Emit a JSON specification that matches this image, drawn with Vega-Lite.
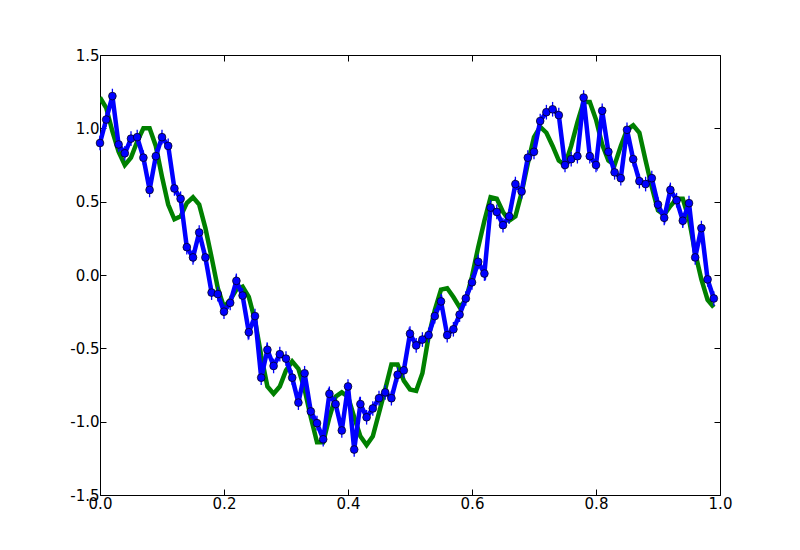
{
  "$schema": "https://vega.github.io/schema/vega-lite/v6.json",
  "width": 620,
  "height": 440,
  "autosize": {"type": "none"},
  "padding": {"left": 100, "top": 55, "right": 80, "bottom": 55},
  "background": "white",
  "config": {
    "view": {"stroke": "black", "strokeWidth": 1},
    "axis": {
      "domain": false,
      "grid": false,
      "title": null,
      "labelFont": "DejaVu Sans",
      "labelFontSize": 15,
      "labelColor": "black",
      "tickColor": "black",
      "tickSize": -6,
      "tickWidth": 1,
      "labelPadding": 7,
      "labelFlush": false,
      "labelOverlap": false,
      "labelBound": false
    }
  },
  "data": {
    "values": [
      {"x": 0.00, "g": 1.21, "b": 0.90, "e": 0.05},
      {"x": 0.01, "g": 1.14, "b": 1.06, "e": 0.05},
      {"x": 0.02, "g": 0.98, "b": 1.22, "e": 0.05},
      {"x": 0.03, "g": 0.84, "b": 0.89, "e": 0.05},
      {"x": 0.04, "g": 0.75, "b": 0.83, "e": 0.05},
      {"x": 0.05, "g": 0.80, "b": 0.93, "e": 0.05},
      {"x": 0.06, "g": 0.91, "b": 0.94, "e": 0.05},
      {"x": 0.07, "g": 1.00, "b": 0.80, "e": 0.05},
      {"x": 0.08, "g": 1.00, "b": 0.58, "e": 0.05},
      {"x": 0.09, "g": 0.88, "b": 0.81, "e": 0.05},
      {"x": 0.10, "g": 0.67, "b": 0.94, "e": 0.05},
      {"x": 0.11, "g": 0.48, "b": 0.88, "e": 0.05},
      {"x": 0.12, "g": 0.38, "b": 0.59, "e": 0.05},
      {"x": 0.13, "g": 0.40, "b": 0.52, "e": 0.05},
      {"x": 0.14, "g": 0.49, "b": 0.19, "e": 0.05},
      {"x": 0.15, "g": 0.53, "b": 0.12, "e": 0.05},
      {"x": 0.16, "g": 0.48, "b": 0.29, "e": 0.05},
      {"x": 0.17, "g": 0.32, "b": 0.12, "e": 0.05},
      {"x": 0.18, "g": 0.12, "b": -0.12, "e": 0.05},
      {"x": 0.19, "g": -0.09, "b": -0.13, "e": 0.05},
      {"x": 0.20, "g": -0.22, "b": -0.25, "e": 0.05},
      {"x": 0.21, "g": -0.17, "b": -0.19, "e": 0.05},
      {"x": 0.22, "g": -0.10, "b": -0.04, "e": 0.05},
      {"x": 0.23, "g": -0.08, "b": -0.14, "e": 0.05},
      {"x": 0.24, "g": -0.15, "b": -0.39, "e": 0.05},
      {"x": 0.25, "g": -0.31, "b": -0.28, "e": 0.05},
      {"x": 0.26, "g": -0.55, "b": -0.70, "e": 0.05},
      {"x": 0.27, "g": -0.76, "b": -0.51, "e": 0.05},
      {"x": 0.28, "g": -0.81, "b": -0.62, "e": 0.05},
      {"x": 0.29, "g": -0.76, "b": -0.54, "e": 0.05},
      {"x": 0.30, "g": -0.65, "b": -0.57, "e": 0.05},
      {"x": 0.31, "g": -0.59, "b": -0.70, "e": 0.05},
      {"x": 0.32, "g": -0.64, "b": -0.87, "e": 0.05},
      {"x": 0.33, "g": -0.78, "b": -0.67, "e": 0.05},
      {"x": 0.34, "g": -0.97, "b": -0.93, "e": 0.05},
      {"x": 0.35, "g": -1.14, "b": -1.01, "e": 0.05},
      {"x": 0.36, "g": -1.14, "b": -1.12, "e": 0.05},
      {"x": 0.37, "g": -0.97, "b": -0.81, "e": 0.05},
      {"x": 0.38, "g": -0.83, "b": -0.88, "e": 0.05},
      {"x": 0.39, "g": -0.80, "b": -1.06, "e": 0.05},
      {"x": 0.40, "g": -0.83, "b": -0.76, "e": 0.05},
      {"x": 0.41, "g": -0.97, "b": -1.19, "e": 0.05},
      {"x": 0.42, "g": -1.10, "b": -0.88, "e": 0.05},
      {"x": 0.43, "g": -1.16, "b": -0.97, "e": 0.05},
      {"x": 0.44, "g": -1.10, "b": -0.91, "e": 0.05},
      {"x": 0.45, "g": -0.94, "b": -0.84, "e": 0.05},
      {"x": 0.46, "g": -0.78, "b": -0.80, "e": 0.05},
      {"x": 0.47, "g": -0.61, "b": -0.84, "e": 0.05},
      {"x": 0.48, "g": -0.61, "b": -0.68, "e": 0.05},
      {"x": 0.49, "g": -0.72, "b": -0.65, "e": 0.05},
      {"x": 0.50, "g": -0.78, "b": -0.40, "e": 0.05},
      {"x": 0.51, "g": -0.79, "b": -0.48, "e": 0.05},
      {"x": 0.52, "g": -0.67, "b": -0.44, "e": 0.05},
      {"x": 0.53, "g": -0.42, "b": -0.41, "e": 0.05},
      {"x": 0.54, "g": -0.24, "b": -0.28, "e": 0.05},
      {"x": 0.55, "g": -0.10, "b": -0.18, "e": 0.05},
      {"x": 0.56, "g": -0.09, "b": -0.41, "e": 0.05},
      {"x": 0.57, "g": -0.15, "b": -0.37, "e": 0.05},
      {"x": 0.58, "g": -0.22, "b": -0.27, "e": 0.05},
      {"x": 0.59, "g": -0.17, "b": -0.16, "e": 0.05},
      {"x": 0.60, "g": -0.01, "b": -0.05, "e": 0.05},
      {"x": 0.61, "g": 0.19, "b": 0.09, "e": 0.05},
      {"x": 0.62, "g": 0.37, "b": 0.01, "e": 0.05},
      {"x": 0.63, "g": 0.53, "b": 0.46, "e": 0.05},
      {"x": 0.64, "g": 0.52, "b": 0.43, "e": 0.05},
      {"x": 0.65, "g": 0.43, "b": 0.34, "e": 0.05},
      {"x": 0.66, "g": 0.37, "b": 0.40, "e": 0.05},
      {"x": 0.67, "g": 0.40, "b": 0.62, "e": 0.05},
      {"x": 0.68, "g": 0.56, "b": 0.57, "e": 0.05},
      {"x": 0.69, "g": 0.76, "b": 0.80, "e": 0.05},
      {"x": 0.70, "g": 0.94, "b": 0.84, "e": 0.05},
      {"x": 0.71, "g": 1.01, "b": 1.05, "e": 0.05},
      {"x": 0.72, "g": 0.97, "b": 1.11, "e": 0.05},
      {"x": 0.73, "g": 0.88, "b": 1.13, "e": 0.05},
      {"x": 0.74, "g": 0.78, "b": 1.09, "e": 0.05},
      {"x": 0.75, "g": 0.75, "b": 0.75, "e": 0.05},
      {"x": 0.76, "g": 0.88, "b": 0.79, "e": 0.05},
      {"x": 0.77, "g": 1.04, "b": 0.81, "e": 0.05},
      {"x": 0.78, "g": 1.18, "b": 1.21, "e": 0.05},
      {"x": 0.79, "g": 1.18, "b": 0.81, "e": 0.05},
      {"x": 0.80, "g": 1.06, "b": 0.75, "e": 0.05},
      {"x": 0.81, "g": 0.89, "b": 1.12, "e": 0.05},
      {"x": 0.82, "g": 0.78, "b": 0.84, "e": 0.05},
      {"x": 0.83, "g": 0.75, "b": 0.70, "e": 0.05},
      {"x": 0.84, "g": 0.88, "b": 0.66, "e": 0.05},
      {"x": 0.85, "g": 0.99, "b": 0.99, "e": 0.05},
      {"x": 0.86, "g": 1.02, "b": 0.79, "e": 0.05},
      {"x": 0.87, "g": 0.97, "b": 0.64, "e": 0.05},
      {"x": 0.88, "g": 0.78, "b": 0.62, "e": 0.05},
      {"x": 0.89, "g": 0.60, "b": 0.66, "e": 0.05},
      {"x": 0.90, "g": 0.44, "b": 0.48, "e": 0.05},
      {"x": 0.91, "g": 0.41, "b": 0.39, "e": 0.05},
      {"x": 0.92, "g": 0.47, "b": 0.58, "e": 0.05},
      {"x": 0.93, "g": 0.52, "b": 0.51, "e": 0.05},
      {"x": 0.94, "g": 0.52, "b": 0.37, "e": 0.05},
      {"x": 0.95, "g": 0.38, "b": 0.49, "e": 0.05},
      {"x": 0.96, "g": 0.15, "b": 0.12, "e": 0.05},
      {"x": 0.97, "g": -0.03, "b": 0.32, "e": 0.05},
      {"x": 0.98, "g": -0.17, "b": -0.03, "e": 0.05},
      {"x": 0.99, "g": -0.22, "b": -0.16, "e": 0.05}
    ]
  },
  "layer": [
    {
      "mark": {"type": "line", "color": "#008000", "strokeWidth": 4.5, "strokeJoin": "miter", "clip": true},
      "encoding": {
        "x": {"field": "x", "type": "quantitative", "scale": {"domain": [0, 1], "nice": false, "zero": false},
              "axis": {"orient": "bottom", "values": [0, 0.2, 0.4, 0.6, 0.8, 1.0], "format": ".1f", "labelExpr": "replace(datum.label, '\u2212', '-')"}},
        "y": {"field": "g", "type": "quantitative", "scale": {"domain": [-1.5, 1.5], "nice": false, "zero": false},
              "axis": {"orient": "left", "values": [-1.5, -1, -0.5, 0, 0.5, 1, 1.5], "format": ".1f", "labelExpr": "replace(datum.label, '\u2212', '-')"}}
      }
    },
    {
      "mark": {"type": "errorbar", "color": "#0000ff", "thickness": 1.3},
      "encoding": {
        "x": {"field": "x", "type": "quantitative", "axis": null},
        "y": {"field": "b", "type": "quantitative", "axis": null},
        "yError": {"field": "e"}
      }
    },
    {
      "mark": {"type": "line", "color": "#0000ff", "strokeWidth": 4.5, "strokeJoin": "miter"},
      "encoding": {
        "x": {"field": "x", "type": "quantitative", "axis": null},
        "y": {"field": "b", "type": "quantitative", "axis": null}
      }
    },
    {
      "mark": {"type": "point", "shape": "circle", "filled": true, "fill": "#0000ff", "fillOpacity": 1, "stroke": "black", "strokeWidth": 0.7, "opacity": 1, "size": 60},
      "encoding": {
        "x": {"field": "x", "type": "quantitative",
              "axis": {"orient": "top", "values": [0, 0.2, 0.4, 0.6, 0.8, 1.0], "labels": false}},
        "y": {"field": "b", "type": "quantitative",
              "axis": {"orient": "right", "values": [-1.5, -1, -0.5, 0, 0.5, 1, 1.5], "labels": false}}
      }
    }
  ],
  "resolve": {"axis": {"x": "independent", "y": "independent"}}
}
